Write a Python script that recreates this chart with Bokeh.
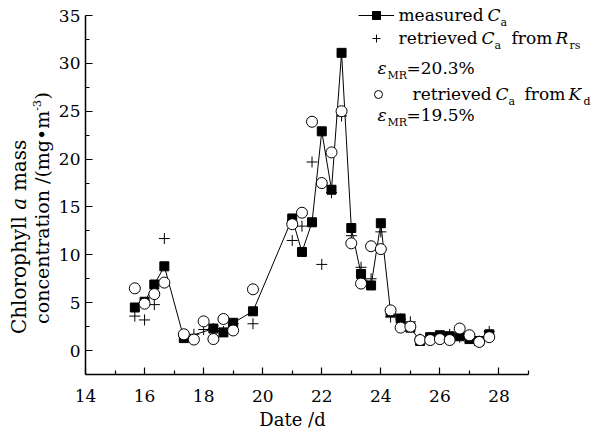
from bokeh.plotting import figure
from bokeh.models import Range1d, FixedTicker, Label, Legend, LegendItem, LinearAxis
from bokeh.core.properties import value
from bokeh.embed import file_html
from bokeh.resources import INLINE
import math

# ---------------- data ----------------
dates = [15.67, 16.0, 16.33, 16.67, 17.33, 17.67, 18.0, 18.33, 18.67, 19.0, 19.67,
         21.0, 21.33, 21.67, 22.0, 22.33, 22.67, 23.0, 23.33, 23.67, 24.0, 24.33,
         24.67, 25.0, 25.33, 25.67, 26.0, 26.33, 26.67, 27.0, 27.33, 27.67]
retrieved_rrs = [3.6, 3.2, 4.8, 11.7, 1.5, 1.7, 2.2, 2.3, 2.0, 2.8, 2.8,
                 11.5, 13.0, 19.7, 9.0, 16.5, 24.5, 12.0, 8.7, 7.5, 12.4, 3.5,
                 3.3, 3.0, 1.2, 1.3, 1.5, 1.7, 1.4, 1.3, 1.0, 2.0]
retrieved_kd = [6.5, 4.9, 5.9, 7.1, 1.7, 1.15, 3.05, 1.2, 3.3, 2.1, 6.4,
                13.2, 14.4, 23.9, 17.5, 20.7, 25.0, 11.2, 7.0, 10.9, 10.6, 4.2,
                2.4, 2.5, 1.1, 1.1, 1.2, 1.1, 2.3, 1.6, 0.9, 1.4]
measured_dates = [15.67, 16.0, 16.33, 16.67, 17.33, 18.33, 18.67, 19.0, 19.67,
                  21.0, 21.33, 21.67, 22.0, 22.33, 22.67, 23.0, 23.33, 23.67, 24.0, 24.33,
                  24.67, 25.0, 25.33, 25.67, 26.0, 26.33, 26.67, 27.0, 27.33, 27.67]
measured = [4.5, 5.1, 6.9, 8.8, 1.3, 2.3, 1.9, 2.9, 4.1,
            13.8, 10.3, 13.4, 22.9, 16.8, 31.1, 12.8, 8.0, 6.8, 13.3, 4.0,
            3.35, 2.4, 1.0, 1.4, 1.6, 1.5, 1.5, 1.2, 1.0, 1.7]
x_ticks = [14, 16, 18, 20, 22, 24, 26, 28]
x_minor = [15, 17, 19, 21, 23, 25, 27, 29]
y_ticks = [0, 5, 10, 15, 20, 25, 30, 35]
y_minor = [2.5, 7.5, 12.5, 17.5, 22.5, 27.5, 32.5]
x_axis_span = (14, 29)
y_axis_span = (-2.5, 35)

FONT = "DejaVu Serif"
W, H = 599, 432
FL, FR, FT, FB = 85, 528, 15, 374   # where the axes box lies on the page (px)

def X(px):
    return x_axis_span[0] + (px - FL) * (x_axis_span[1] - x_axis_span[0]) / (FR - FL)

def Y(py):
    return y_axis_span[1] - (py - FT) * (y_axis_span[1] - y_axis_span[0]) / (FB - FT)

p = figure(width=W, height=H, x_range=Range1d(X(0), X(W)), y_range=Range1d(Y(H), Y(0)),
           output_backend="svg", toolbar_location=None,
           x_axis_location=None, y_axis_location=None,
           min_border_left=0, min_border_right=0, min_border_top=0, min_border_bottom=0)
p.grid.visible = False
p.outline_line_color = None
p.background_fill_color = "white"
p.border_fill_color = "white"

xax = LinearAxis(fixed_location=y_axis_span[0], bounds=x_axis_span,
                 ticker=FixedTicker(ticks=x_ticks, minor_ticks=x_minor))
yax = LinearAxis(fixed_location=x_axis_span[0], bounds=y_axis_span,
                 ticker=FixedTicker(ticks=y_ticks, minor_ticks=y_minor))
p.add_layout(xax, "below")
p.add_layout(yax, "left")
for ax in (xax, yax):
    ax.axis_line_color = "black"
    ax.axis_line_width = 1.5
    ax.major_tick_in = 7
    ax.major_tick_out = 0
    ax.minor_tick_in = 4
    ax.minor_tick_out = 0
    ax.major_tick_line_color = "black"
    ax.minor_tick_line_color = "black"
    ax.major_tick_line_width = 1.2
    ax.minor_tick_line_width = 1.2
    ax.major_label_text_font = FONT
    ax.major_label_text_font_size = "17px"
    ax.major_label_text_color = "black"
xax.major_label_standoff = 15
yax.major_label_standoff = 5

line_r = p.line(measured_dates, measured, line_color="black", line_width=1)
sq_r = p.scatter(measured_dates, measured, marker="square", size=9,
                 fill_color="black", line_color="black")
plus_r = p.scatter(dates, retrieved_rrs, marker="cross", size=11,
                   line_color="black", line_width=1)
circ_r = p.scatter(dates, retrieved_kd, marker="circle", size=11,
                   fill_color="white", line_color="black", line_width=1)

# ---------------- legend glyph samples ----------------
def legend_box(items, left_px, top_px):
    h = len(items) * 20 + (len(items) - 1) * 3
    lg = Legend(items=items, location=(left_px, H - (top_px + h)),
                orientation="vertical", glyph_width=36, glyph_height=20,
                label_height=20, label_width=1, label_standoff=0, spacing=3,
                padding=0, margin=0, border_line_alpha=0, background_fill_alpha=0,
                label_text_font=FONT, label_text_font_size="17px")
    p.add_layout(lg)

legend_box([LegendItem(label=value(" "), renderers=[line_r, sq_r]),
            LegendItem(label=value(" "), renderers=[plus_r])], 357.5, 5)
legend_box([LegendItem(label=value(" "), renderers=[circ_r])], 360, 84)

# ---------------- texts ----------------
def lab(text, px, py, size=17, style="normal", align="left", angle=0.0):
    p.add_layout(Label(x=X(px), y=Y(py), text=text, text_font=FONT,
                       text_font_size=f"{size}px", text_font_style=style,
                       text_align=align, text_baseline="middle", angle=angle,
                       text_color="black"))

# row 1
lab("measured", 398, 14)
lab("C", 487, 14, style="italic")
lab("a", 500, 22, size=11)
# row 2
lab("retrieved", 398, 37)
lab("C", 481, 37, style="italic")
lab("a", 494, 45, size=11)
lab("from", 511, 37)
lab("R", 555, 37, style="italic")
lab("rs", 569, 45, size=11)
# row 3
lab("ε", 377, 67, style="italic")
lab("MR", 387, 75, size=11)
lab("=20.3%", 406, 67)
# row 4
lab("retrieved", 412, 93)
lab("C", 495, 93, style="italic")
lab("a", 508, 101, size=11)
lab("from", 524, 93)
lab("K", 568, 93, style="italic")
lab("d", 583, 101, size=11)
# row 5
lab("ε", 377, 114, style="italic")
lab("MR", 387, 122, size=11)
lab("=19.5%", 406, 114)

# x axis title
lab("Date /d", 292, 419, size=18, align="center")

# y axis title (two rotated lines)
A = math.pi / 2
lab("Chlorophyll", 18, 215.6, size=20, align="right", angle=A)
lab("a", 18, 203.3, size=20, style="italic", align="center", angle=A)
lab("mass", 18, 190.6, size=20, align="left", angle=A)
lab("concentration /(mg\u2022m", 41, 110.3, size=19, align="right", angle=A)
lab("-3", 36, 110.3, size=11, align="left", angle=A)
lab(")", 41, 99, size=19, align="left", angle=A)

open("out.html", "w").write(file_html(p, INLINE))
